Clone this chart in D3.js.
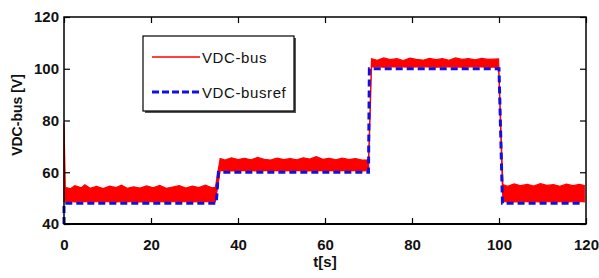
<!DOCTYPE html>
<html><head><meta charset="utf-8">
<script src="https://cdn.jsdelivr.net/npm/d3@7"></script>
<style>body{margin:0;background:#fff}svg{display:block}text{font-family:"Liberation Sans",Arial,sans-serif}</style>
</head><body><svg id="c" width="599" height="278"></svg>
<script>
// --- data ---
const xTicks = [0, 20, 40, 60, 80, 100, 120];
const yTicks = [40, 60, 80, 100, 120];
// reference (blue dashed)
const refT = [0, 0, 35, 35.5, 70, 70.2, 100, 100.8, 119.3];
const refV = [40, 48, 48, 60, 60, 100, 100, 48, 48];
// measured bus voltage (red): noise envelope, low and high edges
const busT = [0, 0.3, 1.5, 2.5, 4, 4.8, 6, 7.5, 9, 10.5, 12, 13.2, 14.5, 16, 17.5, 19, 20.5, 22, 23.5, 25, 26.5, 28, 29.5, 31, 32.5, 34, 34.8,
  35.9, 37, 38.5, 40, 41.5, 43, 44.5, 46, 47.5, 49, 50.5, 52, 53.5, 55, 56.5, 58, 59.5, 61, 62.5, 64, 65.5, 67, 68.5, 70.0,
  70.7, 72, 73.5, 75, 76.5, 78, 79.5, 81, 82.5, 84, 85.5, 87, 88.5, 90, 91.5, 93, 94.5, 96, 97.5, 99.9,
  100.9, 102, 103.5, 105, 106.5, 108, 109.5, 111, 112.5, 114, 115.5, 117, 118.5, 119.6];
const busHi = [79, 54.2, 53.6, 54.8, 54.0, 55.2, 53.8, 54.5, 53.7, 54.6, 54.1, 55.0, 53.8, 54.4, 53.9, 54.7, 54.0, 54.9, 53.8, 54.3, 54.8, 53.9, 54.6, 54.1, 55.0, 54.0, 54.2,
  65.3, 64.7, 65.6, 64.9, 65.4, 64.8, 65.7, 65.0, 64.7, 65.5, 64.9, 65.3, 64.8, 65.6, 65.1, 66.0, 65.0, 65.4, 64.8, 65.5, 64.9, 65.3, 64.7, 64.8,
  103.9, 103.3, 104.2, 103.5, 103.9, 103.2, 104.1, 103.6, 103.3, 104.0, 103.5, 103.9, 103.3, 104.2, 103.6, 103.9, 103.4, 104.0, 103.6, 103.8,
  55.2, 54.6, 55.5, 54.8, 55.3, 54.7, 55.6, 54.9, 55.2, 54.6, 55.4, 54.8, 55.3, 54.9];
const busLo = [48.6, 48.6, 48.7, 48.5, 48.6, 48.7, 48.5, 48.6, 48.6, 48.7, 48.5, 48.6, 48.7, 48.6, 48.5, 48.6, 48.7, 48.6, 48.5, 48.6, 48.7, 48.6, 48.5, 48.6, 48.7, 48.6, 48.6,
  60.6, 60.7, 60.5, 60.6, 60.7, 60.6, 60.5, 60.6, 60.7, 60.6, 60.5, 60.6, 60.7, 60.6, 60.5, 60.6, 60.7, 60.6, 60.5, 60.6, 60.7, 60.6, 60.5, 60.6,
  100.7, 100.8, 100.6, 100.7, 100.8, 100.7, 100.6, 100.7, 100.8, 100.7, 100.6, 100.7, 100.8, 100.7, 100.6, 100.7, 100.8, 100.7, 100.6, 100.7,
  48.6, 48.7, 48.5, 48.6, 48.7, 48.6, 48.5, 48.6, 48.7, 48.6, 48.5, 48.6, 48.7, 48.6];
const legendLabels = ["VDC-bus", "VDC-busref"];
const xLabel = "t[s]", yLabel = "VDC-bus [V]";

// --- drawing ---
const svg = d3.select("#c");
const L = 64, R = 586, T = 17, B = 224;
const x = d3.scaleLinear().domain([0, 120]).range([L, R]);
const y = d3.scaleLinear().domain([40, 120]).range([B, T]);

const bus = busT.map((t, i) => ({t, lo: busLo[i], hi: busHi[i]}));
svg.append("path").datum(bus)
  .attr("d", d3.area().x(d => x(d.t)).y0(d => y(d.lo)).y1(d => y(d.hi)))
  .attr("fill", "#f00").attr("stroke", "#f00").attr("stroke-width", 1.2).attr("stroke-linejoin", "miter");

const ref = refT.map((t, i) => ({t, v: refV[i]}));
svg.append("path").datum(ref)
  .attr("d", d3.line().x(d => x(d.t)).y(d => y(d.v)))
  .attr("fill", "none").attr("stroke", "#1010e0").attr("stroke-width", 3)
  .attr("stroke-dasharray", "7,4");

// frame
svg.append("rect").attr("x", L).attr("y", T).attr("width", R - L).attr("height", B - T)
  .attr("fill", "none").attr("stroke", "#000").attr("stroke-width", 1.5);
svg.append("line").attr("x1", L).attr("x2", R).attr("y1", B).attr("y2", B)
  .attr("stroke", "#000").attr("stroke-width", 2);

// axes (inward ticks, MATLAB style)
const ax = svg.append("g").attr("transform", `translate(0,${B})`)
  .call(d3.axisBottom(x).tickValues(xTicks).tickSizeInner(-6).tickSizeOuter(0).tickPadding(15));
const ay = svg.append("g").attr("transform", `translate(${L},0)`)
  .call(d3.axisLeft(y).tickValues(yTicks).tickSizeInner(-6).tickSizeOuter(0).tickPadding(5));
const axT = svg.append("g").attr("transform", `translate(0,${T})`)
  .call(d3.axisTop(x).tickValues(xTicks).tickSizeInner(-6).tickSizeOuter(0).tickFormat(""));
const ayR = svg.append("g").attr("transform", `translate(${R},0)`)
  .call(d3.axisRight(y).tickValues(yTicks).tickSizeInner(-6).tickSizeOuter(0).tickFormat(""));
[ax, ay, axT, ayR].forEach(g => {
  g.select(".domain").remove();
  g.selectAll("line").attr("stroke", "#000").attr("stroke-width", 1.2);
  g.selectAll("text").attr("fill", "#111").style("font-size", "15px").style("font-weight", "bold");
});

svg.append("text").attr("x", x(60)).attr("y", 267).attr("text-anchor", "middle")
  .style("font-size", "15px").style("font-weight", "bold").attr("fill", "#111").text(xLabel);
svg.append("text").attr("transform", `translate(22,115) rotate(-90)`).attr("text-anchor", "middle")
  .style("font-size", "14px").style("font-weight", "bold").attr("fill", "#111").text(yLabel);

// legend
const lg = svg.append("g");
lg.append("rect").attr("x", 145).attr("y", 38).attr("width", 151).attr("height", 75)
  .attr("fill", "#555");
lg.append("rect").attr("x", 143).attr("y", 36).attr("width", 151).attr("height", 75)
  .attr("fill", "#fff").attr("stroke", "#000").attr("stroke-width", 1.2);
lg.append("line").attr("x1", 152).attr("x2", 200).attr("y1", 57).attr("y2", 57)
  .attr("stroke", "#f00").attr("stroke-width", 1.6);
lg.append("line").attr("x1", 152).attr("x2", 200).attr("y1", 92).attr("y2", 92)
  .attr("stroke", "#1010e0").attr("stroke-width", 3).attr("stroke-dasharray", "7,3");
lg.selectAll("text.l").data(legendLabels).join("text").attr("class", "l")
  .attr("x", 202).attr("y", (d, i) => 63 + i * 35)
  .style("font-size", "15px").style("letter-spacing", "0.6px").attr("fill", "#111").text(d => d);
</script></body></html>
